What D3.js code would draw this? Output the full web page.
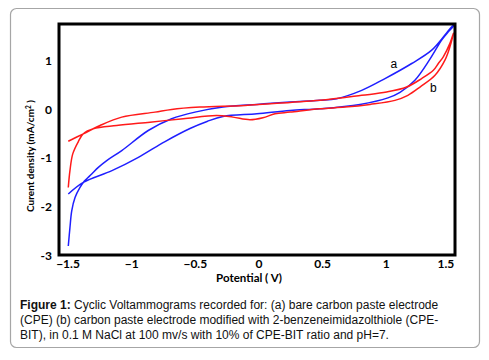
<!DOCTYPE html>
<html>
<head>
<meta charset="utf-8">
<script src="https://cdn.jsdelivr.net/npm/d3@7"></script>
<style>
  body { margin: 0; background: #fff; }
  svg { display: block; }
</style>
</head>
<body>
<div id="chart"></div>
<script>
// Curve (a): bare carbon paste electrode, one sweep
const potentialA = [-1.498, -1.485, -1.471, -1.445, -1.406, -1.380, -1.314, -1.262, -1.196, -1.078,
  -0.870, -0.686, -0.503, -0.283, -0.016, 0.244, 0.479, 0.610, 0.807, 0.990, 1.200, 1.357, 1.461, 1.514, 1.540,
  1.487, 1.435, 1.343, 1.225, 1.108, 1.013, 0.793, 0.479, 0.244, -0.016, -0.283, -0.408, -0.542,
  -0.738, -0.951, -1.155, -1.380, -1.498];
const currentA = [-2.815, -2.437, -2.092, -1.817, -1.611, -1.508, -1.334, -1.198, -1.059, -0.853,
  -0.440, -0.198, -0.062, 0.041, 0.097, 0.145, 0.180, 0.215, 0.386, 0.628, 0.938, 1.212, 1.522, 1.694, 1.739,
  1.590, 1.419, 1.026, 0.593, 0.345, 0.231, 0.097, 0.008, -0.027, -0.095, -0.151, -0.254, -0.399,
  -0.667, -0.998, -1.266, -1.508, -1.747];

// Curve (b): CPE-BIT modified electrode
const potentialB = [-1.498, -1.485, -1.463, -1.419, -1.380, -1.302, -1.118, -0.856, -0.595, -0.332,
  -0.204, -0.071, 0.031, 0.126, 0.244, 0.479, 0.676, 0.872, 1.068, 1.170, 1.265, 1.383, 1.461, 1.500, 1.528,
  1.500, 1.448, 1.409, 1.370, 1.278, 1.160, 1.003, 0.807, 0.479, 0.244, -0.110, -0.463, -0.686, -0.817,
  -1.078, -1.249, -1.380, -1.498];
const currentB = [-1.611, -1.266, -0.921, -0.667, -0.508, -0.405, -0.337, -0.268, -0.198, -0.130,
  -0.165, -0.219, -0.178, -0.095, -0.062, 0.008, 0.041, 0.097, 0.180, 0.283, 0.454, 0.696, 1.006, 1.280, 1.563,
  1.351, 1.074, 0.938, 0.799, 0.628, 0.454, 0.351, 0.283, 0.180, 0.138, 0.076, 0.041, -0.006, -0.062,
  -0.165, -0.337, -0.508, -0.661];

const xTicks = [-1.5, -1, -0.5, 0, 0.5, 1, 1.5];
const yTicks = [1, 0, -1, -2, -3];

const captionLines = [
  ["Figure 1:", " Cyclic Voltammograms recorded for: (a) bare carbon paste electrode"],
  ["", "(CPE) (b) carbon paste electrode modified with 2-benzeneimidazolthiole (CPE-"],
  ["", "BIT), in 0.1 M NaCl at 100 mv/s with 10% of CPE-BIT ratio and pH=7."]
];

const W = 489, H = 360;
const plot = { left: 59, top: 24, right: 455, bottom: 255 };

const svg = d3.select("#chart").append("svg")
  .attr("width", W)
  .attr("height", H);

// outer rounded frame
svg.append("rect")
  .attr("x", 10.5).attr("y", 8.5)
  .attr("width", 469).attr("height", 339)
  .attr("rx", 6)
  .attr("fill", "#fff")
  .attr("stroke", "#a6a6a6")
  .attr("stroke-width", 1.2);

const x = d3.scaleLinear().domain([-1.571, 1.540]).range([plot.left, plot.right]);
const y = d3.scaleLinear().domain([-3, 1.75]).range([plot.bottom, plot.top]);

// tick labels
const tickFont = "Lato, 'Open Sans', sans-serif";
svg.append("g").selectAll("text")
  .data(xTicks)
  .enter().append("text")
  .attr("x", d => x(d) + (d === 1.5 ? -4 : 0))
  .attr("y", plot.bottom + 12.5)
  .attr("text-anchor", "middle")
  .style("font", "bold 12px " + tickFont)
  .text(d => d3.format("")(d));

svg.append("g").selectAll("text")
  .data(yTicks)
  .enter().append("text")
  .attr("x", plot.left - 7)
  .attr("y", d => y(d) + 4.5)
  .attr("text-anchor", "end")
  .style("font", "bold 12px " + tickFont)
  .text(d => d);

// curves
const line = d3.line()
  .x(d => x(d[0]))
  .y(d => y(d[1]))
  .curve(d3.curveCatmullRom.alpha(0.5));

const seriesA = potentialA.map((p, i) => [p, currentA[i]]);
const seriesB = potentialB.map((p, i) => [p, currentB[i]]);

svg.append("path")
  .datum(seriesA)
  .attr("d", line)
  .attr("fill", "none")
  .attr("stroke", "#1f1fff")
  .attr("stroke-width", 1.5);

svg.append("path")
  .datum(seriesB)
  .attr("d", line)
  .attr("fill", "none")
  .attr("stroke", "#ff1a1a")
  .attr("stroke-width", 1.5);

// plot frame
svg.append("rect")
  .attr("x", plot.left).attr("y", plot.top)
  .attr("width", plot.right - plot.left)
  .attr("height", plot.bottom - plot.top)
  .attr("fill", "none")
  .attr("stroke", "#000")
  .attr("stroke-width", 3);

// curve labels
svg.append("text")
  .attr("x", x(1.06)).attr("y", y(0.84))
  .attr("text-anchor", "middle")
  .style("font", "12px 'Liberation Sans', Arial, sans-serif")
  .text("a");
svg.append("text")
  .attr("x", x(1.37)).attr("y", y(0.35))
  .attr("text-anchor", "middle")
  .style("font", "12px 'Liberation Sans', Arial, sans-serif")
  .text("b");

// axis titles
svg.append("text")
  .attr("x", 249).attr("y", 282)
  .attr("text-anchor", "middle")
  .style("font", "bold 11.5px " + tickFont)
  .text("Potential ( V)");

const yTitle = svg.append("text")
  .attr("transform", "translate(34,156) rotate(-90)")
  .attr("text-anchor", "middle")
  .style("font", "bold 10px " + tickFont);
yTitle.append("tspan").text("Curent density (mA/cm");
yTitle.append("tspan").attr("dy", -3.5).style("font-size", "6.5px").text("2");
yTitle.append("tspan").attr("dy", 3.5).text(" )");

// caption
const cap = svg.append("g")
  .style("font", "12px 'Liberation Sans', Arial, sans-serif")
  .attr("fill", "#111");
captionLines.forEach((ln, i) => {
  const t = cap.append("text")
    .attr("x", 20)
    .attr("y", 308.5 + i * 15.3);
  if (ln[0]) t.append("tspan").style("font-weight", "bold").text(ln[0]);
  t.append("tspan").text(ln[1]);
});
</script>
</body>
</html>
